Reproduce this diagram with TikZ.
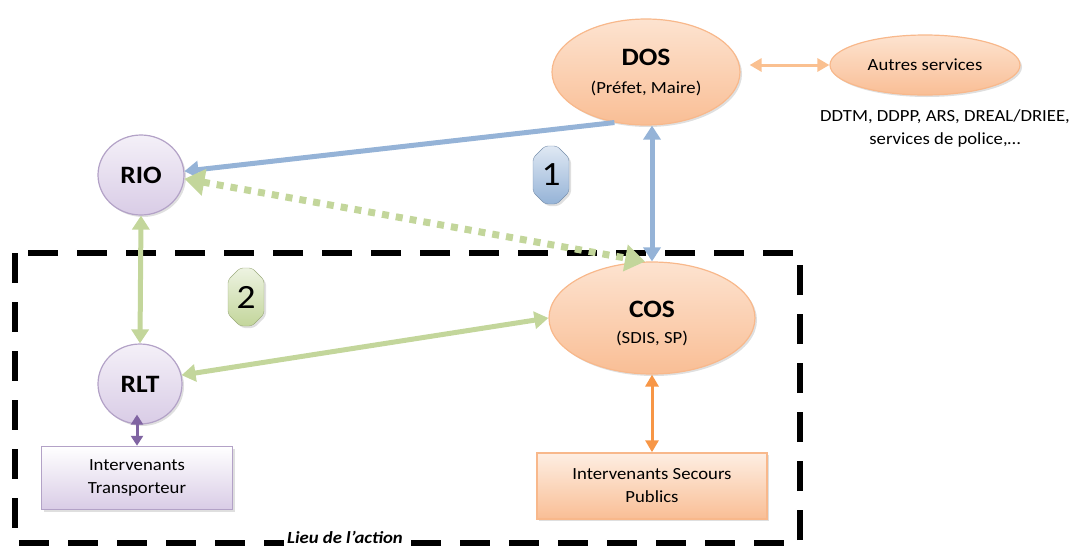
\documentclass[tikz,border=0pt]{standalone}
\usepackage{fontspec}
\setmainfont{Carlito}[FakeStretch=1.1]
\usetikzlibrary{shapes.geometric,shapes.misc,arrows.meta,shadows}

\definecolor{orangeline}{HTML}{F8B88B}
\definecolor{orangetop}{HTML}{FDE3D0}
\definecolor{orangebot}{HTML}{F9BE95}
\definecolor{orangearrow}{HTML}{F79646}
\definecolor{orangelight}{HTML}{FAC090}
\definecolor{lilacline}{HTML}{B3A2C7}
\definecolor{lilactop}{HTML}{F4F0F8}
\definecolor{lilacbot}{HTML}{D9CCE6}
\definecolor{purplearrow}{HTML}{8064A2}
\definecolor{bluearrow}{HTML}{95B3D7}
\definecolor{greenarrow}{HTML}{C3D69B}

\tikzset{
	shade/.style={drop shadow={opacity=0.25,shadow xshift=2pt,shadow yshift=-2pt}},
	orangeell/.style={ellipse,draw=orangeline,line width=1.2pt,top color=orangetop,bottom color=orangebot,shade,inner sep=0pt,align=center},
	lilacell/.style={ellipse,draw=lilacline,line width=1.2pt,top color=lilactop,bottom color=lilacbot,shade,inner sep=0pt,
		minimum width=86pt,minimum height=80pt,font=\fontsize{25}{28}\selectfont\bfseries},
	orangebox/.style={rectangle,draw=orangeline,line width=1.5pt,top color=orangetop!60!white,bottom color=orangebot,shade,
		minimum width=230pt,minimum height=66pt,align=center,font=\fontsize{17}{23}\selectfont},
	lilacbox/.style={rectangle,draw=lilacline,line width=1.5pt,top color=white,bottom color=lilacbot,shade,
		minimum width=191pt,minimum height=63pt,align=center,font=\fontsize{17}{23}\selectfont},
	badge/.style={chamfered rectangle,chamfered rectangle xsep=6pt,chamfered rectangle ysep=6pt,rounded corners=3pt,
		minimum width=36pt,minimum height=58pt,inner sep=0pt,shade,font=\fontsize{34}{36}\selectfont},
	small/.style={font=\fontsize{17}{23}\selectfont},
	bluelink/.style={draw=bluearrow,line width=5pt},
	greenlink/.style={draw=greenarrow,line width=5pt},
	bighead/.tip={Triangle[length=14pt,width=17pt]},
}

\begin{document}
\begin{tikzpicture}[x=1pt,y=-1pt]
	\useasboundingbox (0,0) rectangle (1079,547);
	% zone d'intervention
	\draw[line width=6pt,dash pattern=on 30pt off 19pt] (15,253) rectangle (800,543);
	\node[fill=white,inner xsep=3pt,inner ysep=5pt,font=\fontsize{17}{20}\selectfont\bfseries\itshape] (lieu) at (345,537) {Lieu de l’action};

	% noeuds
	\node[orangeell,minimum width=188pt,minimum height=106pt] (dos) at (646,72) {};
	\node[font=\fontsize{25}{28}\selectfont\bfseries] (dost) at (646,57) {DOS};
	\node[small] (dosp) at (646,88) {(Préfet, Maire)};
	\node[orangeell,minimum width=190pt,minimum height=60pt,small] (autres) at (925,65) {Autres services};
	\node[small,align=center] (liste) at (945,128) {DDTM, DDPP, ARS, DREAL/DRIEE,\\services de police,…};
	\node[orangeell,minimum width=206pt,minimum height=112pt] (cos) at (652,318) {};
	\node[font=\fontsize{25}{28}\selectfont\bfseries] (cost) at (652,309) {COS};
	\node[small] (cosp) at (652,338) {(SDIS, SP)};
	\node[lilacell] (rio) at (141,175) {RIO};
	\node[lilacell,minimum width=84pt] (rlt) at (140,384) {RLT};
	\node[lilacbox] (transp) at (137,478) {Intervenants\\Transporteur};
	\node[orangebox] (secours) at (652,486) {Intervenants Secours\\Publics};
	\node[badge,draw=bluearrow!80!black,top color=bluearrow!30!white,bottom color=bluearrow] (un) at (551,175) {1};
	\node[badge,draw=greenarrow!80!black,top color=greenarrow!30!white,bottom color=greenarrow] (deux) at (246,297) {2};

	% liens
	\draw[bluelink,-{bighead}] (dos.238) -- (rio.5);
	\draw[bluelink,{bighead}-{bighead}] (cos.north) -- (cos.north |- dos.south);
	\draw[greenlink,line width=7pt,dash pattern=on 7pt off 7pt,{Triangle[length=20pt,width=26pt]}-{Triangle[length=20pt,width=26pt]}] (rio.-5) -- (cos.97);
	\draw[greenlink,{bighead}-{bighead}] (rio.south) -- (rlt.north);
	\draw[greenlink,{bighead}-{bighead}] (rlt.12) -- (cos.west);
	\draw[draw=purplearrow,line width=3pt,shorten >=-10pt,{Triangle[length=10pt,width=12pt]}-{Triangle[length=10pt,width=12pt]}] (transp.north) -- (transp.north |- rlt.south);
	\draw[draw=orangearrow,line width=3pt,{Triangle[length=12pt,width=13pt]}-{Triangle[length=12pt,width=13pt]}] (cos.south) -- (secours.north);
	\draw[draw=orangelight,line width=3pt,shorten >=9pt,{Triangle[length=12pt,width=13pt]}-{Triangle[length=12pt,width=13pt]}] (autres.west) -- (autres.west -| dos.east);
\end{tikzpicture}
\end{document}
